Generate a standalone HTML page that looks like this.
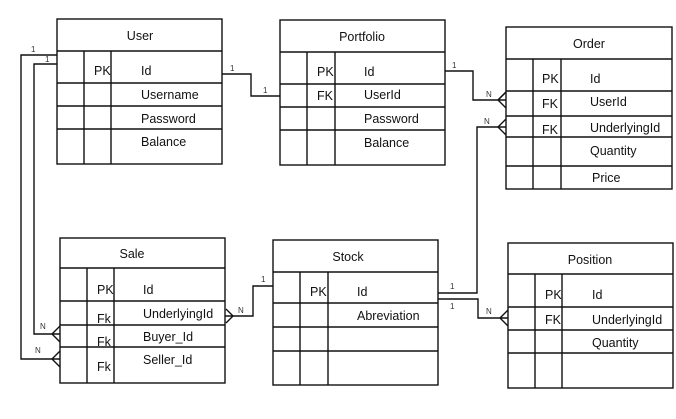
<!DOCTYPE html>
<html><head><style>
html,body{margin:0;padding:0;background:#fff;}
svg{display:block;}
text{font-family:"Liberation Sans",sans-serif;font-size:12.5px;fill:#111;}
.s{font-size:8px;fill:#333;}
</style></head><body>
<svg width="676" height="419" viewBox="0 0 676 419" xmlns="http://www.w3.org/2000/svg">
<g fill="none" stroke="#111" stroke-width="1.4">
<!-- User -->
<rect x="57" y="19" width="165" height="145"/>
<line x1="57" y1="51" x2="222" y2="51"/>
<line x1="57" y1="83" x2="222" y2="83"/>
<line x1="57" y1="106" x2="222" y2="106"/>
<line x1="57" y1="129" x2="222" y2="129"/>
<line x1="84" y1="51" x2="84" y2="164"/>
<line x1="111" y1="51" x2="111" y2="164"/>
<!-- Portfolio -->
<rect x="280" y="20" width="165" height="145"/>
<line x1="280" y1="52" x2="445" y2="52"/>
<line x1="280" y1="84" x2="445" y2="84"/>
<line x1="280" y1="107" x2="445" y2="107"/>
<line x1="280" y1="130" x2="445" y2="130"/>
<line x1="307" y1="52" x2="307" y2="165"/>
<line x1="335" y1="52" x2="335" y2="165"/>
<!-- Order -->
<rect x="506" y="27" width="166" height="162"/>
<line x1="506" y1="59" x2="672" y2="59"/>
<line x1="506" y1="91" x2="672" y2="91"/>
<line x1="506" y1="116" x2="672" y2="116"/>
<line x1="506" y1="137" x2="672" y2="137"/>
<line x1="506" y1="166" x2="672" y2="166"/>
<line x1="533" y1="59" x2="533" y2="189"/>
<line x1="561" y1="59" x2="561" y2="189"/>
<!-- Sale -->
<rect x="60" y="238" width="165" height="145"/>
<line x1="60" y1="268" x2="225" y2="268"/>
<line x1="60" y1="301" x2="225" y2="301"/>
<line x1="60" y1="325" x2="225" y2="325"/>
<line x1="60" y1="347" x2="225" y2="347"/>
<line x1="87" y1="268" x2="87" y2="383"/>
<line x1="114" y1="268" x2="114" y2="383"/>
<!-- Stock -->
<rect x="273" y="240" width="165" height="145"/>
<line x1="273" y1="272" x2="438" y2="272"/>
<line x1="273" y1="303" x2="438" y2="303"/>
<line x1="273" y1="327" x2="438" y2="327"/>
<line x1="273" y1="351" x2="438" y2="351"/>
<line x1="300" y1="272" x2="300" y2="385"/>
<line x1="328" y1="272" x2="328" y2="385"/>
<!-- Position -->
<rect x="508" y="243" width="165" height="145"/>
<line x1="508" y1="274" x2="673" y2="274"/>
<line x1="508" y1="307" x2="673" y2="307"/>
<line x1="508" y1="330" x2="673" y2="330"/>
<line x1="508" y1="353" x2="673" y2="353"/>
<line x1="535" y1="274" x2="535" y2="388"/>
<line x1="562" y1="274" x2="562" y2="388"/>
<!-- connectors -->
<polyline points="222,74 251,74 251,96 280,96"/>
<polyline points="445,71 473,71 473,100 506,100"/>
<polyline points="498,100 506,92 M498,100 506,108"/>
<path d="M498,100 L506,92 M498,100 L506,108"/>
<polyline points="57,55 21,55 21,359 60,359"/>
<path d="M52,359 L60,351 M52,359 L60,367"/>
<polyline points="57,64 34,64 34,334 60,334"/>
<path d="M52,334 L60,326 M52,334 L60,342"/>
<polyline points="225,316 253,316 253,286 273,286"/>
<path d="M233,316 L226,309 M233,316 L226,323"/>
<polyline points="438,293 477,293 477,127 506,127"/>
<path d="M498,127 L506,119 M498,127 L506,135"/>
<polyline points="438,299 478,299 478,318 508,318"/>
<path d="M500,318 L508,310 M500,318 L508,326"/>
</g>
<g text-anchor="middle">
<text x="140" y="40">User</text>
<text x="362" y="41">Portfolio</text>
<text x="589" y="48">Order</text>
<text x="132" y="258">Sale</text>
<text x="348" y="261">Stock</text>
<text x="590" y="264">Position</text>
</g>
<text x="94" y="75">PK</text><text x="141" y="75">Id</text>
<text x="141" y="99">Username</text>
<text x="141" y="123">Password</text>
<text x="141" y="146">Balance</text>
<text x="317" y="76">PK</text><text x="364" y="76">Id</text>
<text x="317" y="100">FK</text><text x="364" y="99">UserId</text>
<text x="364" y="123">Password</text>
<text x="364" y="147">Balance</text>
<text x="542" y="83">PK</text><text x="590" y="83">Id</text>
<text x="542" y="108">FK</text><text x="590" y="106">UserId</text>
<text x="542" y="134">FK</text><text x="590" y="132">UnderlyingId</text>
<text x="590" y="155">Quantity</text>
<text x="592" y="182">Price</text>
<text x="97" y="294">PK</text><text x="143" y="294">Id</text>
<text x="97" y="323">Fk</text><text x="143" y="318">UnderlyingId</text>
<text x="97" y="346">Fk</text><text x="143" y="341">Buyer_Id</text>
<text x="97" y="371">Fk</text><text x="143" y="364">Seller_Id</text>
<text x="310" y="296">PK</text><text x="357" y="296">Id</text>
<text x="357" y="320">Abreviation</text>
<text x="545" y="299">PK</text><text x="592" y="299">Id</text>
<text x="545" y="324">FK</text><text x="592" y="324">UnderlyingId</text>
<text x="592" y="347">Quantity</text>
<g>
<text class="s" x="31" y="52">1</text>
<text class="s" x="45" y="62">1</text>
<text class="s" x="230" y="71">1</text>
<text class="s" x="263" y="93">1</text>
<text class="s" x="452" y="68">1</text>
<text class="s" x="486" y="97">N</text>
<text class="s" x="484" y="124">N</text>
<text class="s" x="40" y="329">N</text>
<text class="s" x="35" y="353">N</text>
<text class="s" x="238" y="313">N</text>
<text class="s" x="261" y="282">1</text>
<text class="s" x="450" y="289">1</text>
<text class="s" x="450" y="309">1</text>
<text class="s" x="486" y="314">N</text>
</g>
</svg>
</body></html>
